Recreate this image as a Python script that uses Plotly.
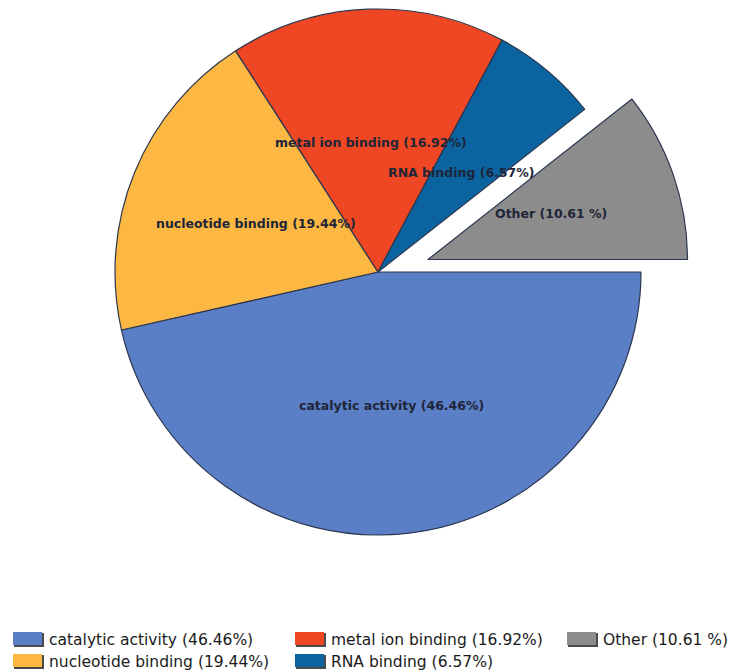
import plotly.graph_objects as go

# ---- data ----
labels = ["catalytic activity", "nucleotide binding", "metal ion binding", "RNA binding", "Other"]
values = [46.46, 19.44, 16.92, 6.57, 10.61]
pct_text = ["46.46%", "19.44%", "16.92%", "6.57%", "10.61 %"]
colors = ["#5b7fc6", "#fdb843", "#ef4723", "#0b64a0", "#8c8c8c"]
pulled = [False, False, False, False, True]

full_labels = [f"{l} ({p})" for l, p in zip(labels, pct_text)]

W, H = 730, 672
TRANSP = "rgba(0,0,0,0)"
EDGE = "#2b3650"


def px_x(v):
    return v / W


def px_y(v):
    return 1 - v / H


def dom(cx, cy, r):
    return dict(x=[px_x(cx - r), px_x(cx + r)], y=[max(0, px_y(cy + r)), min(1, px_y(cy - r))])


common = dict(
    labels=labels, values=values, sort=False, direction="clockwise", rotation=90,
    textinfo="none", hoverinfo="label+percent", showlegend=False,
)

# main pie (non-pulled slices)
main = go.Pie(
    **common,
    domain=dom(378, 272, 263),
    marker=dict(
        colors=[TRANSP if p else c for c, p in zip(colors, pulled)],
        line=dict(color=[TRANSP if p else EDGE for p in pulled],
                  width=[0 if p else 1.2 for p in pulled]),
    ),
)
# exploded slice(s), drawn from an offset copy of the same pie
exploded = go.Pie(
    **common,
    domain=dom(428, 259.5, 259.5),
    marker=dict(
        colors=[c if p else TRANSP for c, p in zip(colors, pulled)],
        line=dict(color=[EDGE if p else TRANSP for p in pulled],
                  width=[1.2 if p else 0 for p in pulled]),
    ),
)

fig = go.Figure([main, exploded])

# in-slice labels
label_pos = [(391, 405), (256, 223), (371, 142), (461, 173), (551, 213)]
annotations = []
for txt, (x, y) in zip(full_labels, label_pos):
    annotations.append(dict(
        x=px_x(x), y=px_y(y), xref="paper", yref="paper", text=f"<b>{txt}</b>", showarrow=False,
        xanchor="center", yanchor="middle",
        font=dict(family="DejaVu Sans", size=12.5, color="#1e2538"),
    ))

# legend (3 columns, filled column by column)
shapes = []
col_x = [13, 295, 567]
row_y = [632, 654]
for i, (txt, c) in enumerate(zip(full_labels, colors)):
    cx = col_x[i // 2]
    ry = row_y[i % 2]
    shapes.append(dict(type="rect", xref="paper", yref="paper",
                       x0=px_x(cx + 1), x1=px_x(cx + 31), y0=px_y(ry + 15), y1=px_y(ry + 1),
                       fillcolor="#4a4a4a", line=dict(width=0)))
    shapes.append(dict(type="rect", xref="paper", yref="paper",
                       x0=px_x(cx), x1=px_x(cx + 29), y0=px_y(ry + 13), y1=px_y(ry),
                       fillcolor=c, line=dict(width=0)))
    annotations.append(dict(
        x=px_x(cx + 34), y=px_y(ry + 7.5), xref="paper", yref="paper", text=txt,
        showarrow=False, xanchor="left", yanchor="middle",
        font=dict(family="DejaVu Sans", size=15.5, color="#1a1a1a"),
    ))

fig.update_layout(
    width=W, height=H,
    margin=dict(l=0, r=0, t=0, b=0),
    paper_bgcolor="white", plot_bgcolor="white",
    showlegend=False,
    annotations=annotations,
    shapes=shapes,
)

fig.write_html("out.html")
